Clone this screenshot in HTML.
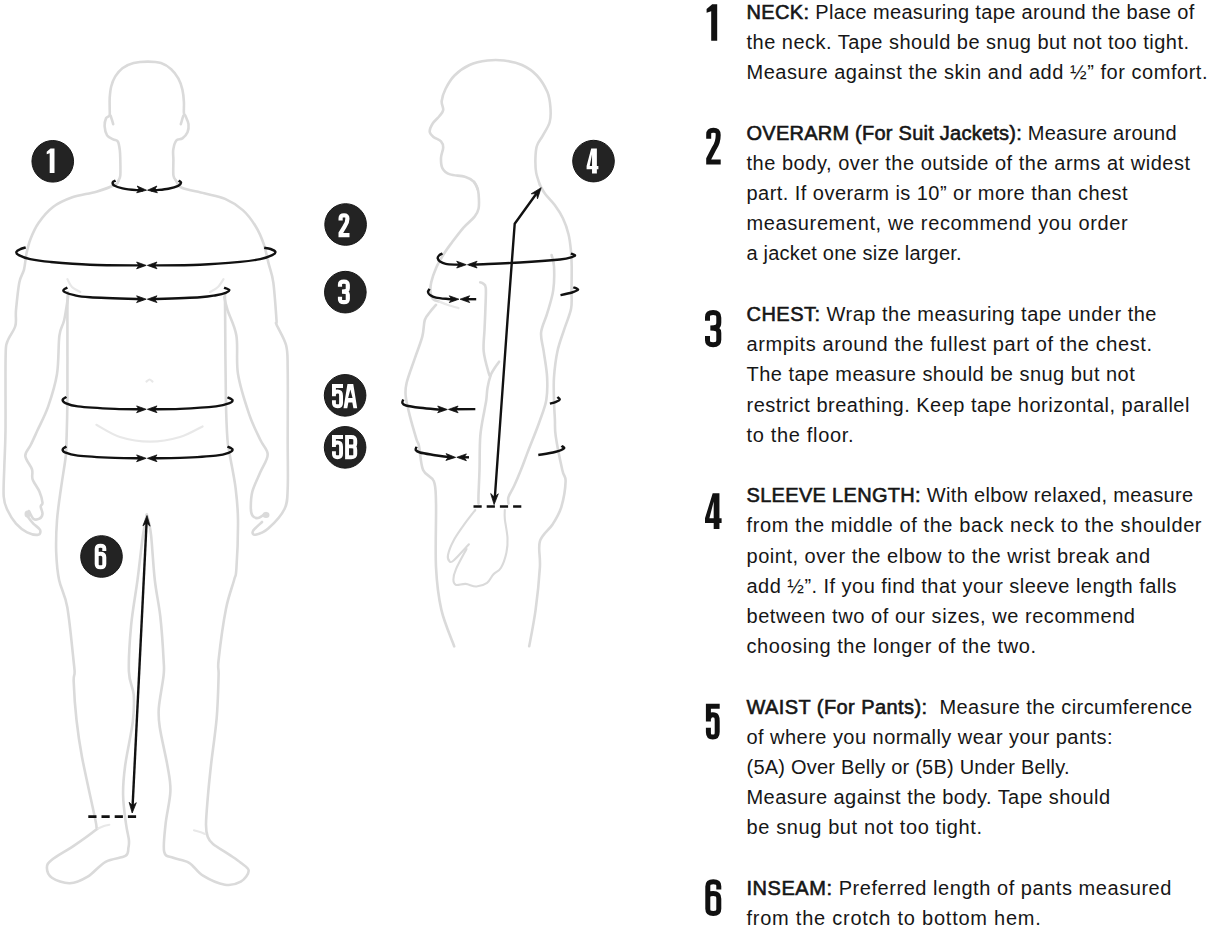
<!DOCTYPE html>
<html><head><meta charset="utf-8"><style>
html,body{margin:0;padding:0;background:#fff;width:1207px;height:934px;overflow:hidden;position:relative}
.t{position:absolute;left:746.5px;font-family:"Liberation Sans",sans-serif;font-size:20.0px;line-height:20.0px;white-space:nowrap;color:#161616}
.t b{font-weight:normal;-webkit-text-stroke:0.6px #161616}
</style></head><body>
<svg width="1207" height="934" viewBox="0 0 1207 934" style="position:absolute;left:0;top:0">
<g fill="none" stroke="#dadada" stroke-width="2.6" stroke-linecap="round" stroke-linejoin="round">
<path d="M118.6,180.5 C118.9,179.7 120.0,178.8 120.3,175.4 C120.6,172.0 120.4,164.2 120.3,160.0 C120.2,155.8 120.2,153.1 119.8,150.0 C119.4,146.9 118.9,143.3 117.8,141.5 C116.7,139.7 115.0,140.4 113.2,139.4 C111.4,138.4 108.5,137.6 107.1,135.4 C105.7,133.2 104.8,129.1 104.6,126.2 C104.4,123.3 105.3,119.9 106.1,118.1 C106.9,116.3 108.9,117.0 109.5,115.5 C110.1,114.0 109.7,111.9 109.7,108.9 C109.7,105.9 109.5,101.4 109.7,97.7 C110.0,94.0 110.3,90.0 111.2,86.5 C112.1,83.0 113.4,79.5 115.3,76.4 C117.2,73.4 119.4,70.4 122.4,68.2 C125.5,66.0 129.4,64.2 133.6,63.1 C137.8,62.0 143.2,61.6 147.8,61.6 C152.4,61.6 157.1,61.8 161.0,63.1 C164.9,64.4 168.3,66.7 171.2,69.2 C174.1,71.8 176.4,75.0 178.3,78.4 C180.2,81.8 181.5,85.7 182.4,89.6 C183.3,93.5 183.7,97.9 183.9,101.8 C184.2,105.7 183.6,110.6 183.9,113.0 C184.2,115.4 184.7,114.1 185.5,116.0 C186.3,117.9 188.2,121.5 188.5,124.2 C188.8,126.9 188.5,129.9 187.5,132.3 C186.5,134.7 184.3,137.0 182.4,138.4 C180.5,139.8 177.8,138.6 176.3,140.5 C174.8,142.4 173.7,146.8 173.2,150.0 C172.7,153.2 173.4,155.8 173.4,160.0 C173.4,164.2 173.0,172.0 173.4,175.4 C173.8,178.8 175.6,179.7 176.0,180.5"/>
<path d="M110.5,115.5 C110.8,116.2 111.5,118.5 112.0,120.0 C112.5,121.5 113.0,123.5 113.2,124.2"/>
<path d="M183.5,115.5 C183.2,116.2 182.4,118.5 182.0,120.0 C181.6,121.5 181.0,123.5 180.8,124.2"/>
<path d="M118.6,180.5 C118.1,181.2 119.3,182.6 115.6,184.5 C111.9,186.4 103.6,189.6 96.4,191.7 C89.2,193.8 79.5,194.8 72.3,197.3 C65.1,199.9 58.6,202.7 53.0,207.0 C47.4,211.3 42.2,217.7 38.5,223.0 C34.8,228.3 32.5,233.9 30.5,239.0 C28.5,244.1 27.6,248.4 26.5,253.5 C25.4,258.6 25.2,264.8 24.0,269.6 C22.8,274.4 20.6,275.7 19.3,282.4 C18.0,289.1 16.7,302.7 16.0,310.0 C15.3,317.3 16.8,320.7 15.3,326.0 C13.8,331.3 8.8,336.7 7.2,342.0 C5.6,347.3 5.9,343.3 5.6,358.0 C5.3,372.7 5.7,411.8 5.5,430.0 C5.3,448.2 4.6,455.9 4.3,467.0 C4.0,478.1 3.2,489.3 3.7,496.5 C4.2,503.7 5.3,505.5 7.4,510.0 C9.5,514.5 12.7,519.9 16.0,523.6 C19.3,527.3 23.4,530.4 27.1,532.3 C30.8,534.1 36.1,535.1 38.2,534.7 C40.4,534.3 40.8,531.6 40.0,529.8 C39.2,527.9 35.3,525.7 33.3,523.6 C31.3,521.5 28.9,518.1 28.0,517.0"/>
<path d="M68.3,295.3 C67.6,299.4 65.7,313.3 64.2,320.0 C62.7,326.7 60.6,326.7 59.4,335.7 C58.2,344.7 58.9,362.2 57.0,374.0 C55.1,385.8 51.4,397.1 48.2,406.4 C45.0,415.7 40.5,423.6 37.6,430.0 C34.7,436.4 32.9,440.5 30.8,444.8 C28.8,449.1 25.1,451.8 25.3,455.9 C25.5,460.0 30.8,465.5 32.0,469.4 C33.2,473.3 31.4,475.6 32.6,479.3 C33.8,483.0 37.8,487.7 39.4,491.6 C41.0,495.5 42.3,500.2 42.5,502.7 C42.7,505.2 40.7,504.5 40.7,506.4 C40.7,508.2 42.7,511.7 42.5,513.8 C42.3,515.8 40.9,517.9 39.4,518.7 C37.9,519.5 35.0,520.0 33.3,518.7 C31.6,517.4 29.7,512.3 29.0,511.0"/>
<path d="M68.0,292.0 C67.9,295.0 67.5,292.0 67.4,310.0 C67.3,328.0 67.6,378.3 67.4,400.0 C67.2,421.7 66.8,430.7 66.5,440.0 C66.2,449.3 66.7,448.0 65.8,456.0 C64.9,464.0 62.5,477.5 61.0,488.2 C59.5,498.9 57.8,509.6 57.0,520.3 C56.2,531.0 55.9,542.4 56.2,552.4 C56.6,562.4 57.2,570.9 59.1,580.0 C61.0,589.1 64.9,593.6 67.3,607.3 C69.7,621.0 72.5,651.0 73.7,662.0 C74.9,673.0 74.6,669.7 74.6,673.0 C74.6,676.3 73.4,674.2 73.7,682.0 C74.0,689.8 75.1,707.6 76.5,720.0 C77.9,732.4 78.9,740.4 81.9,756.5 C84.9,772.6 92.3,804.8 94.7,816.6 C97.1,828.4 96.3,825.3 96.5,827.5 C96.7,829.7 99.4,826.9 95.6,830.0 C91.8,833.1 81.0,840.9 73.7,845.9 C66.4,850.9 56.4,856.1 51.9,859.8 C47.4,863.4 46.9,864.8 46.9,867.8 C46.9,870.8 48.1,875.1 51.9,877.7 C55.7,880.3 63.8,883.5 69.8,883.3 C75.8,883.1 81.7,880.3 87.7,876.7 C93.7,873.1 99.3,865.3 105.6,861.8 C111.9,858.3 121.6,858.2 125.4,855.9 C129.2,853.6 127.8,850.5 128.4,847.9 C129.0,845.2 129.3,844.0 128.9,840.0 C128.5,836.0 127.0,831.4 126.0,823.9 C125.0,816.4 123.2,804.6 123.1,795.0 C122.9,785.4 123.5,778.2 125.1,766.0 C126.7,753.8 131.4,733.6 132.8,721.7 C134.2,709.8 134.3,703.1 133.7,694.7 C133.0,686.4 129.3,683.1 128.9,671.6 C128.5,660.1 129.7,640.9 131.1,625.6 C132.5,610.3 135.5,595.1 137.5,580.0 C139.5,564.9 141.4,545.9 143.0,535.0 C144.6,524.1 146.2,517.9 146.8,514.5"/>
<path d="M146.8,514.5 C147.1,515.8 148.1,518.4 148.8,522.0 C149.5,525.6 150.2,526.7 151.2,536.4 C152.2,546.1 153.3,566.6 154.8,580.0 C156.3,593.4 158.8,603.2 160.3,616.5 C161.8,629.8 163.1,650.2 163.6,660.0 C164.1,669.8 164.4,667.4 163.6,675.4 C162.8,683.4 159.4,699.5 158.8,708.2 C158.2,716.9 158.4,717.9 159.8,727.5 C161.2,737.1 165.7,755.4 167.5,766.0 C169.3,776.6 170.7,781.5 170.4,791.1 C170.1,800.8 166.6,813.8 165.6,823.9 C164.6,834.0 162.9,846.2 164.2,851.9 C165.5,857.5 169.0,856.0 173.2,857.8 C177.3,859.6 184.1,859.8 189.1,862.8 C194.1,865.8 197.0,872.1 203.0,875.7 C209.0,879.4 218.6,883.7 224.9,884.7 C231.2,885.7 236.8,884.0 240.8,881.7 C244.8,879.4 248.7,873.9 248.7,870.8 C248.7,867.6 244.0,865.4 240.8,862.8 C237.6,860.1 234.2,858.0 229.6,854.9 C225.0,851.8 216.7,846.9 213.0,843.9 C209.3,840.9 208.9,840.0 207.7,836.7 C206.5,833.4 205.9,830.9 206.0,823.9 C206.1,816.9 207.2,804.6 208.0,795.0 C208.8,785.4 209.5,778.9 210.9,766.0 C212.3,753.1 215.4,732.9 216.7,717.8 C218.0,702.7 218.3,685.0 218.6,675.4 C218.9,665.8 217.4,671.0 218.6,660.0 C219.8,649.0 223.3,622.5 225.9,609.2 C228.5,595.9 232.3,586.8 234.1,580.0 C235.8,573.2 235.8,578.5 236.4,568.5 C237.1,558.5 238.1,533.7 238.0,520.3 C237.9,506.9 236.9,498.9 235.6,488.2 C234.3,477.5 231.3,464.0 230.0,456.0 C228.7,448.0 228.2,449.3 227.5,440.0 C226.8,430.7 226.3,421.7 225.9,400.0 C225.5,378.3 225.2,327.8 225.1,310.0 C224.9,292.2 225.0,295.8 225.0,293.0"/>
<path d="M176.0,180.5 C177.0,181.7 177.1,185.6 181.8,187.7 C186.5,189.8 197.0,191.4 204.2,193.3 C211.4,195.2 218.7,196.1 225.1,198.9 C231.5,201.7 237.7,205.6 242.8,210.1 C247.9,214.6 252.1,220.6 255.6,226.2 C259.1,231.8 261.6,237.8 263.7,243.9 C265.8,250.1 266.9,256.7 268.5,263.1 C270.1,269.5 272.0,272.9 273.3,282.4 C274.6,291.9 276.0,313.0 276.5,320.0 C277.0,327.0 274.9,320.3 276.5,324.5 C278.1,328.7 284.2,337.7 286.1,345.3 C288.0,352.9 287.4,354.2 287.7,370.0 C288.0,385.8 287.7,420.3 287.7,440.0 C287.7,459.7 288.2,476.7 287.7,488.2 C287.2,499.7 287.7,502.3 284.5,509.0 C281.3,515.7 273.3,524.0 268.5,528.3 C263.7,532.6 258.2,534.2 255.6,534.7 C253.0,535.2 251.9,533.1 253.0,531.0 C254.1,528.9 260.5,523.5 262.0,522.0"/>
<path d="M224.3,296.9 C224.8,299.1 225.5,303.5 227.5,310.0 C229.5,316.5 234.7,325.0 236.4,335.7 C238.2,346.4 235.9,360.9 238.0,374.0 C240.1,387.1 245.5,403.4 249.2,414.4 C252.9,425.4 257.3,433.3 260.4,440.0 C263.5,446.7 267.7,449.1 267.7,454.5 C267.7,459.9 262.9,466.0 260.4,472.1 C257.8,478.2 254.0,485.5 252.4,491.4 C250.8,497.3 250.8,503.4 250.8,507.4 C250.8,511.4 251.2,513.7 252.4,515.5 C253.6,517.3 255.7,518.4 258.0,518.0 C260.3,517.6 264.7,513.8 266.0,513.0"/>
<path d="M477.7,189.4 C477.1,188.2 476.1,184.0 474.0,181.9 C471.9,179.8 469.0,177.9 465.0,176.7 C461.0,175.4 453.8,175.8 450.0,174.4 C446.2,173.0 444.0,171.2 442.5,168.4 C441.0,165.7 440.9,161.4 441.0,157.9 C441.1,154.4 443.2,150.2 443.2,147.4 C443.2,144.7 442.6,143.2 441.0,141.4 C439.4,139.7 435.4,138.5 433.5,136.9 C431.6,135.3 429.8,133.9 429.7,131.7 C429.6,129.5 431.1,126.1 432.7,123.5 C434.3,120.9 437.8,118.2 439.5,116.0 C441.2,113.8 442.8,112.5 443.2,110.0 C443.6,107.5 441.3,104.5 441.7,101.0 C442.1,97.5 443.4,93.2 445.5,89.0 C447.6,84.8 450.5,79.5 454.5,75.5 C458.5,71.5 464.0,67.5 469.5,65.0 C475.0,62.5 481.8,61.2 487.5,60.5 C493.2,59.8 498.2,59.8 504.0,60.5 C509.8,61.2 516.5,62.5 522.0,65.0 C527.5,67.5 532.7,71.0 536.9,75.5 C541.1,80.0 545.1,86.8 547.4,92.0 C549.6,97.2 550.0,102.0 550.4,107.0 C550.8,112.0 551.0,117.3 549.7,122.0 C548.5,126.7 545.0,131.4 542.9,135.4 C540.8,139.4 538.1,141.9 536.9,145.9 C535.6,149.9 535.5,154.9 535.4,159.4 C535.3,163.9 535.5,168.7 536.2,172.9 C537.0,177.2 539.3,182.9 539.9,184.9"/>
<path d="M474.0,181.9 C474.5,182.8 476.2,185.0 477.0,187.0 C477.8,189.0 478.3,190.5 478.6,194.1 C478.9,197.7 479.3,204.8 478.6,208.5 C477.9,212.2 477.2,213.4 474.6,216.6 C472.1,219.8 467.1,223.5 463.3,227.8 C459.6,232.1 455.3,237.9 452.1,242.2 C448.9,246.5 446.8,249.2 444.1,253.5 C441.4,257.8 438.2,263.1 436.1,267.9 C434.0,272.7 432.1,278.4 431.2,282.4 C430.3,286.4 430.2,289.2 430.5,292.0 C430.8,294.8 431.5,297.4 433.0,299.0 C434.5,300.6 438.2,301.2 439.3,301.6"/>
<path d="M436.0,304.9 C435.0,306.1 431.9,309.5 430.0,312.0 C428.1,314.5 426.1,315.9 424.8,320.0 C423.5,324.1 424.0,330.2 422.3,336.6 C420.6,343.0 417.5,350.4 414.9,358.1 C412.3,365.8 408.1,376.6 406.6,383.0 C405.1,389.4 405.1,390.7 405.7,396.2 C406.2,401.7 408.1,408.9 409.9,416.1 C411.7,423.3 415.0,434.3 416.5,439.3 C418.0,444.3 417.9,440.9 419.0,446.0 C420.1,451.1 420.6,464.1 423.1,470.0 C425.6,475.9 431.8,475.9 433.9,481.4 C436.0,486.9 435.6,488.5 436.0,502.8 C436.4,517.1 435.1,549.2 436.0,567.1 C436.9,585.0 438.4,596.7 441.4,609.9 C444.4,623.1 452.1,640.2 454.2,646.3"/>
<path d="M539.9,184.9 C540.8,186.4 542.7,190.7 545.2,194.1 C547.7,197.5 552.0,201.3 554.9,205.3 C557.8,209.3 560.6,213.4 562.9,218.2 C565.2,223.0 567.2,228.8 568.5,234.2 C569.8,239.5 570.4,245.0 570.9,250.3 C571.4,255.7 571.6,259.7 571.7,266.3 C571.8,272.9 571.6,282.9 571.5,290.0 C571.4,297.1 572.3,302.1 571.1,308.6 C569.9,315.1 566.6,322.0 564.3,329.1 C562.0,336.2 559.1,343.4 557.4,351.4 C555.7,359.4 554.6,369.0 554.0,377.1 C553.4,385.2 553.9,392.9 554.0,400.0 C554.1,407.1 554.6,413.4 554.9,419.4 C555.2,425.4 554.5,427.6 555.7,436.0 C556.9,444.4 560.6,462.4 562.3,470.0 C563.9,477.6 565.8,475.2 565.6,481.4 C565.4,487.6 563.4,500.0 561.3,507.1 C559.1,514.2 556.3,518.5 552.7,524.2 C549.1,529.9 542.0,534.2 539.9,541.4 C537.8,548.5 540.6,555.7 539.9,567.1 C539.2,578.5 537.4,596.7 535.6,609.9 C533.8,623.1 530.3,640.2 529.2,646.3"/>
<path d="M480.2,282.4 C480.7,282.6 482.1,282.6 483.0,283.5 C483.9,284.4 485.4,283.8 485.8,288.0 C486.2,292.2 485.6,301.6 485.4,308.6 C485.2,315.6 484.8,322.9 484.5,330.0 C484.2,337.1 483.0,344.1 483.7,351.4 C484.4,358.7 487.8,369.7 488.9,373.7 C490.0,377.7 490.3,375.1 490.6,375.4"/>
<path d="M499.1,361.7 C498.2,362.9 495.4,366.7 494.0,369.0 C492.6,371.3 491.7,372.2 490.6,375.4 C489.5,378.6 488.2,383.9 487.5,388.0 C486.8,392.1 486.8,396.3 486.3,400.0 C485.8,403.7 485.5,404.0 484.5,410.0 C483.5,416.0 481.1,426.0 480.3,436.0 C479.5,446.0 479.8,460.2 479.5,470.0 C479.2,479.8 478.7,489.4 478.5,495.0 C478.3,500.6 478.5,502.2 478.5,503.6"/>
<path d="M551.6,255.1 C552.0,257.0 553.7,260.4 554.0,266.3 C554.3,272.2 554.4,282.5 553.2,290.4 C552.1,298.3 549.1,306.7 547.1,313.7 C545.1,320.7 541.7,326.3 541.1,332.6 C540.5,338.9 542.7,344.0 543.7,351.4 C544.7,358.8 546.7,369.0 547.1,377.1 C547.5,385.2 547.6,392.4 546.3,400.0 C545.0,407.6 542.2,413.9 539.1,422.7 C536.0,431.5 530.5,444.7 527.5,452.6 C524.5,460.5 523.1,464.5 520.9,470.0 C518.7,475.5 516.3,481.2 514.2,485.7 C512.1,490.2 509.4,494.0 508.5,497.0 C507.6,500.0 508.5,502.5 508.5,503.6"/>
<path d="M67.4,279.2 C68.2,280.5 69.8,284.9 72.0,287.0 C74.2,289.1 78.9,291.2 80.3,292.0" stroke="#e8e8e8" stroke-width="2.2"/>
<path d="M223.5,279.2 C222.6,280.5 220.2,284.9 218.0,287.0 C215.8,289.1 211.3,291.2 210.0,292.0" stroke="#e8e8e8" stroke-width="2.2"/>
<path d="M96.4,424.8 C100.3,426.8 111.1,434.2 120.0,437.0 C128.9,439.8 140.0,441.7 150.0,441.7 C160.0,441.7 171.2,439.6 180.0,437.0 C188.8,434.4 198.8,428.2 202.6,426.4" stroke="#e8e8e8" stroke-width="2.2"/>
<path d="M146.5,381.5 C147.0,381.2 148.6,379.5 149.6,379.5 C150.6,379.5 152.0,381.2 152.5,381.5" stroke="#e8e8e8" stroke-width="2.2"/>
<path d="M98.3,828.5 C99.2,828.1 102.2,826.6 104.0,826.0 C105.8,825.4 108.4,825.0 109.3,824.8" stroke="#e8e8e8" stroke-width="2.2"/>
<path d="M194.0,830.3 C195.0,830.6 198.2,831.4 200.0,832.0 C201.8,832.6 204.2,833.7 205.0,834.0" stroke="#e8e8e8" stroke-width="2.2"/>
<path d="M439.3,301.6 C440.8,302.2 444.8,303.9 448.0,305.0 C451.2,306.1 456.8,307.6 458.5,308.1" stroke="#e8e8e8" stroke-width="2.2"/>
<path d="M475.3,510.0 C473.5,512.3 468.2,518.9 464.6,523.9 C461.0,528.9 456.7,534.8 453.9,540.0 C451.1,545.2 448.7,551.4 448.0,555.0 C447.3,558.6 448.6,560.5 449.6,561.4 C450.6,562.3 450.7,563.1 453.9,560.3 C457.1,557.4 466.4,547.0 468.9,544.3" stroke-width="2.1"/>
<path d="M466.5,549.0 C464.8,552.3 458.3,563.8 456.1,568.9 C453.9,574.0 453.4,576.9 453.4,579.6 C453.4,582.3 454.1,584.2 456.1,584.9 C458.2,585.6 462.3,583.6 465.7,583.9 C469.1,584.2 472.8,586.7 476.4,586.5 C480.0,586.3 484.2,584.8 487.1,582.8 C490.0,580.8 491.2,576.7 493.5,574.2 C495.8,571.7 498.9,571.4 501.0,567.8 C503.1,564.2 505.3,557.8 506.4,552.8 C507.5,547.8 507.8,543.5 507.5,537.8 C507.2,532.1 505.2,523.2 504.8,518.6 C504.4,514.0 504.8,511.4 504.8,510.0" stroke-width="2.1"/>
<ellipse cx="27.5" cy="514" rx="3" ry="3.5" fill="#dadada" stroke="none"/>
<ellipse cx="266" cy="515" rx="3.5" ry="3" fill="#dadada" stroke="none"/>
</g>
<g fill="none" stroke="#111" stroke-width="2.4" stroke-linecap="butt" stroke-linejoin="round">
<path d="M115.6,180.6 C115.1,180.9 112.9,181.4 112.7,182.2 C112.5,183.0 112.6,184.5 114.2,185.5 C115.8,186.5 118.8,187.5 122.6,188.3 C126.3,189.1 133.3,189.8 136.7,190.1 C140.1,190.4 141.9,190.2 143.0,190.2"/>
<path d="M178.6,180.6 C179.0,180.9 181.2,181.8 181.1,182.7 C181.0,183.6 180.3,184.8 178.2,185.8 C176.1,186.8 171.9,188.0 168.4,188.7 C164.9,189.4 160.0,189.8 157.1,190.1 C154.2,190.3 152.0,190.2 151.0,190.2"/>
<path d="M25.7,247.4 C24.8,247.7 21.9,248.3 20.4,249.1 C18.8,249.8 16.7,250.9 16.4,251.9 C16.1,252.9 16.5,253.9 18.8,255.1 C21.1,256.3 24.9,258.0 30.1,259.1 C35.3,260.2 40.2,261.0 50.2,261.9 C60.2,262.8 74.5,264.1 90.0,264.7 C105.5,265.3 134.2,265.3 143.0,265.4"/>
<path d="M264.2,247.8 C265.3,248.0 268.7,248.3 270.6,249.0 C272.5,249.7 275.1,250.9 275.4,251.9 C275.7,252.9 274.7,253.9 272.2,255.1 C269.7,256.3 265.6,258.0 260.2,259.1 C254.8,260.2 250.1,261.0 240.1,261.9 C230.1,262.8 214.8,264.1 200.0,264.7 C185.2,265.3 159.2,265.3 151.0,265.4"/>
<path d="M67.4,287.6 C66.8,287.9 64.3,288.9 63.8,289.6 C63.3,290.3 62.8,291.1 64.6,292.0 C66.3,292.9 70.1,294.3 74.3,295.2 C78.5,296.1 78.5,296.5 90.0,297.2 C101.5,297.9 134.2,298.9 143.0,299.2"/>
<path d="M224.1,287.6 C225.0,288.0 229.0,289.1 229.3,290.0 C229.6,290.9 227.9,291.9 225.7,292.8 C223.5,293.7 220.4,294.5 216.1,295.2 C211.8,295.9 210.8,296.5 200.0,297.2 C189.2,297.9 159.2,298.9 151.0,299.2"/>
<path d="M66.4,396.8 C65.8,397.3 62.9,398.6 62.7,399.6 C62.5,400.6 62.5,401.7 65.0,402.8 C67.5,403.9 69.5,405.4 77.8,406.4 C86.1,407.4 104.1,408.4 115.0,408.9 C125.9,409.4 138.3,409.2 143.0,409.3"/>
<path d="M227.5,397.3 C228.3,397.8 232.2,399.2 232.5,400.2 C232.8,401.2 232.2,402.2 229.5,403.2 C226.8,404.2 224.2,405.4 216.0,406.4 C207.8,407.3 190.8,408.4 180.0,408.9 C169.2,409.4 155.8,409.2 151.0,409.3"/>
<path d="M66.4,446.5 C65.8,446.9 62.9,448.2 62.7,449.2 C62.5,450.2 62.5,451.3 65.0,452.4 C67.5,453.5 69.5,454.7 77.8,455.6 C86.1,456.5 104.1,457.4 115.0,457.9 C125.9,458.3 138.3,458.2 143.0,458.3"/>
<path d="M227.5,446.5 C228.3,447.0 232.2,448.4 232.5,449.4 C232.8,450.4 232.2,451.4 229.5,452.4 C226.8,453.4 224.2,454.7 216.0,455.6 C207.8,456.5 190.8,457.4 180.0,457.9 C169.2,458.3 155.8,458.2 151.0,458.3"/>
<path d="M146.6,522 L132.6,806"/>
<path d="M442.5,253.5 C441.9,253.8 439.8,254.7 439.0,255.5 C438.2,256.3 437.5,257.3 437.7,258.3 C437.9,259.3 438.7,260.6 440.0,261.5 C441.3,262.4 443.2,263.4 445.7,263.9 C448.2,264.4 452.1,264.5 455.0,264.6 C457.9,264.7 461.7,264.7 463.0,264.7"/>
<path d="M570.9,253.5 C571.6,253.8 574.6,254.5 574.9,255.1 C575.2,255.7 575.0,256.2 572.5,256.9 C570.0,257.6 568.8,258.6 560.0,259.5 C551.2,260.4 534.2,261.7 520.0,262.5 C505.8,263.3 483.2,264.1 475.0,264.5 C466.8,264.9 471.7,264.7 471.0,264.7"/>
<path d="M429.6,288.8 C429.3,289.3 427.9,291.0 428.0,292.0 C428.1,293.0 428.7,294.1 430.0,295.0 C431.3,295.9 433.0,296.9 436.0,297.6 C439.0,298.3 444.8,298.7 448.0,299.0 C451.2,299.3 454.2,299.2 455.5,299.2"/>
<path d="M464,299.2 L476.2,299.2"/>
<path d="M560.5,295.2 C562.4,294.8 569.1,293.4 572.0,292.5 C574.9,291.6 577.9,290.5 578.1,289.6 C578.3,288.7 574.1,287.6 573.3,287.2"/>
<path d="M403.3,399.5 C403.1,400.1 401.9,402.0 402.4,403.0 C402.8,404.0 403.1,404.7 406.0,405.5 C408.9,406.3 415.2,407.2 420.0,407.8 C424.8,408.4 431.0,408.9 435.0,409.2 C439.0,409.5 442.5,409.4 444.0,409.5"/>
<path d="M452,409.3 L475.3,409.1"/>
<path d="M549.9,403.7 C550.9,403.4 554.4,402.5 556.0,401.8 C557.6,401.1 559.6,400.3 559.8,399.5 C560.0,398.7 557.8,397.4 557.4,397.0"/>
<path d="M416.5,446.8 C416.4,447.3 415.1,449.1 415.7,450.0 C416.3,450.9 416.8,451.6 420.0,452.5 C423.2,453.4 430.3,454.4 435.0,455.2 C439.7,455.9 445.2,456.6 448.0,457.0 C450.8,457.4 451.3,457.2 452.0,457.3"/>
<path d="M462,457.3 L469,457.3"/>
<path d="M538.3,455.0 C541.1,454.5 550.7,453.1 555.0,452.0 C559.3,450.9 562.9,449.4 564.0,448.4 C565.1,447.4 561.9,446.3 561.5,445.9"/>
<path d="M494.8,498 L507.5,320 L514.7,223.8 L536.5,193.5"/>
<path d="M88.3,816.6 L136.6,816.6" stroke-dasharray="8.2 5" stroke-width="2.6"/>
<path d="M473.5,506.5 L521.7,506.5" stroke-dasharray="8.2 5" stroke-width="2.6"/>
</g>
<g fill="#111" stroke="#111" stroke-width="0.8" stroke-linejoin="miter">
<path d="M146.5,190.2 L136.7,192.8 L139.3,189.6 L137.2,186.0 Z"/>
<path d="M147.6,190.2 L156.9,186.0 L154.8,189.6 L157.4,192.8 Z"/>
<path d="M146.2,265.4 L136.6,268.8 L139.0,265.4 L136.6,262.0 Z"/>
<path d="M147.4,265.4 L157.0,262.0 L154.6,265.4 L157.0,268.8 Z"/>
<path d="M146.2,299.2 L136.6,302.6 L139.0,299.2 L136.6,295.8 Z"/>
<path d="M147.4,299.2 L157.0,295.8 L154.6,299.2 L157.0,302.6 Z"/>
<path d="M146.2,409.3 L136.6,412.7 L139.0,409.3 L136.6,405.9 Z"/>
<path d="M147.4,409.3 L157.0,405.9 L154.6,409.3 L157.0,412.7 Z"/>
<path d="M146.2,458.3 L136.6,461.7 L139.0,458.3 L136.6,454.9 Z"/>
<path d="M147.4,458.3 L157.0,454.9 L154.6,458.3 L157.0,461.7 Z"/>
<path d="M147.0,515.5 L150.1,526.2 L146.6,523.0 L142.9,525.8 Z"/>
<path d="M132.2,813.0 L129.1,802.3 L132.6,805.5 L136.3,802.7 Z"/>
<path d="M466.3,264.7 L456.7,268.0 L459.1,264.6 L456.7,261.2 Z"/>
<path d="M467.5,264.7 L477.1,261.2 L474.7,264.6 L477.1,268.0 Z"/>
<path d="M458.9,299.2 L449.3,302.6 L451.7,299.2 L449.3,295.8 Z"/>
<path d="M460.1,299.2 L469.7,295.8 L467.3,299.2 L469.7,302.6 Z"/>
<path d="M447.3,409.5 L437.7,412.8 L440.1,409.4 L437.7,406.0 Z"/>
<path d="M448.5,409.4 L458.1,406.0 L455.7,409.4 L458.1,412.8 Z"/>
<path d="M455.6,457.4 L445.9,460.4 L448.4,457.1 L446.1,453.6 Z"/>
<path d="M456.8,457.3 L466.4,453.9 L464.0,457.3 L466.4,460.7 Z"/>
<path d="M541.2,187.7 L537.5,198.8 L536.5,193.6 L531.2,193.8 Z"/>
<path d="M494.1,504.6 L490.7,493.5 L494.4,497.1 L498.3,493.8 Z"/>
</g>
<g fill="#232323" stroke="#161616" stroke-width="1">
<circle cx="52.75" cy="161.3" r="20.8"/>
<circle cx="345.6" cy="224.5" r="20.8"/>
<circle cx="345.35" cy="292.15" r="20.8"/>
<circle cx="345.1" cy="395.35" r="20.8"/>
<circle cx="345.1" cy="447.35" r="20.8"/>
<circle cx="593.5" cy="161.1" r="20.8"/>
<circle cx="101.5" cy="556.5" r="20.8"/>
</g>
<path d="M50.50,148.60 L54.50,148.60 L54.50,172.90 L49.70,172.90 L49.70,153.22 L46.70,154.31 L46.70,151.76 Z" fill="#fff" fill-rule="evenodd"/>
<path d="M340.60,220.40 V218.36 C340.60,215.64 341.79,215.30 344.00,215.30 C346.21,215.30 347.40,215.64 347.40,218.70 C347.40,221.84 346.55,224.00 344.68,226.40 L340.60,233.18 V235.10 H349.50" fill="none" stroke="#fff" stroke-width="4.20" stroke-linejoin="miter" stroke-linecap="butt"/>
<path d="M340.00,286.69 V284.58 C340.00,282.10 341.37,281.60 343.90,281.60 C346.43,281.60 347.80,282.10 347.80,285.07 V288.30 C347.80,290.78 346.24,291.53 341.95,291.53 M341.95,291.53 C346.24,291.53 347.80,292.27 347.80,294.75 V298.98 C347.80,301.70 346.43,302.20 343.90,302.20 C341.37,302.20 340.00,301.70 340.00,299.22 V296.86" fill="none" stroke="#fff" stroke-width="4.20" stroke-linejoin="miter" stroke-linecap="butt"/>
<path d="M343.00,386.05 H333.95 V396.15 M333.95,394.22 C334.66,392.29 336.26,391.57 337.50,391.57 C340.69,391.57 341.05,393.02 341.05,395.91 V402.88 C341.05,405.77 339.81,406.25 337.50,406.25 C335.19,406.25 333.95,405.77 333.95,403.12 V400.25" fill="none" stroke="#fff" stroke-width="3.90" stroke-linejoin="miter" stroke-linecap="butt"/>
<path d="M347.45,384.10 L353.25,384.10 L357.20,408.20 L353.42,408.20 L352.32,402.42 L348.38,402.42 L347.28,408.20 L343.50,408.20 Z M350.35,389.40 L352.54,398.08 L348.16,398.08 Z" fill="#fff" fill-rule="evenodd"/>
<path d="M343.00,436.95 H333.95 V447.10 M333.95,445.16 C334.66,443.23 336.26,442.50 337.50,442.50 C340.69,442.50 341.05,443.95 341.05,446.86 V453.86 C341.05,456.77 339.81,457.25 337.50,457.25 C335.19,457.25 333.95,456.77 333.95,454.10 V451.21" fill="none" stroke="#fff" stroke-width="3.90" stroke-linejoin="miter" stroke-linecap="butt"/>
<path d="M347.05,459.20 V436.95 H351.15 C354.43,436.95 355.25,437.92 355.25,440.58 V443.47 C355.25,445.89 354.02,446.37 351.15,446.37 H347.05 M351.15,446.37 C354.84,446.37 355.25,447.10 355.25,450.00 V454.10 C355.25,456.77 354.43,457.25 351.15,457.25 H345.10" fill="none" stroke="#fff" stroke-width="3.90" stroke-linejoin="miter" stroke-linecap="butt"/>
<path d="M591.20,148.40 L596.87,148.40 L596.87,165.97 L598.40,165.97 L598.40,169.23 L596.87,169.23 L596.87,173.50 L592.04,173.50 L592.04,169.23 L586.60,169.23 L586.60,165.97 Z M592.04,154.17 L592.04,165.97 L589.73,165.97 Z" fill="#fff" fill-rule="evenodd"/>
<path d="M104.30,550.91 V548.85 C104.30,546.31 102.97,545.80 100.50,545.80 C98.03,545.80 96.70,546.31 96.70,549.10 V563.90 C96.70,566.69 98.03,567.20 100.50,567.20 C102.97,567.20 104.30,566.69 104.30,563.90 V557.26 C104.30,554.47 102.97,553.71 100.50,553.71 C98.22,553.71 96.70,554.47 96.70,555.99" fill="none" stroke="#fff" stroke-width="4.00" stroke-linejoin="miter" stroke-linecap="butt"/>
<path d="M712.20,4.20 L717.20,4.20 L717.20,40.80 L711.20,40.80 L711.20,11.15 L706.60,12.80 L706.60,8.96 Z" fill="#111" fill-rule="evenodd"/>
<path d="M708.70,138.78 V134.58 C708.70,130.78 710.36,130.30 713.45,130.30 C716.54,130.30 718.20,130.78 718.20,135.05 C718.20,140.98 717.01,144.27 714.40,147.93 L708.70,158.97 V161.90 H720.70" fill="none" stroke="#111" stroke-width="5.00" stroke-linejoin="miter" stroke-linecap="butt"/>
<path d="M707.50,320.79 V316.96 C707.50,313.24 709.48,312.50 713.15,312.50 C716.82,312.50 718.80,313.24 718.80,317.71 V322.54 C718.80,326.93 716.54,328.04 710.33,328.04 M710.33,328.04 C716.54,328.04 718.80,329.16 718.80,332.88 V339.86 C718.80,343.96 716.82,344.70 713.15,344.70 C709.48,344.70 707.50,343.96 707.50,340.24 V336.04" fill="none" stroke="#111" stroke-width="5.00" stroke-linejoin="miter" stroke-linecap="butt"/>
<path d="M712.69,493.20 L719.44,493.20 L719.44,518.33 L721.60,518.33 L721.60,523.00 L719.44,523.00 L719.44,529.10 L713.69,529.10 L713.69,523.00 L705.00,523.00 L705.00,518.33 Z M713.69,501.46 L713.69,518.33 L709.40,518.33 Z" fill="#111" fill-rule="evenodd"/>
<path d="M719.70,706.30 H708.40 V721.60 M708.40,718.75 C709.28,715.90 711.26,714.84 712.80,714.84 C716.76,714.84 717.20,716.97 717.20,721.24 V731.92 C717.20,736.19 715.66,736.90 712.80,736.90 C709.94,736.90 708.40,736.19 708.40,732.27 V727.65" fill="none" stroke="#111" stroke-width="5.00" stroke-linejoin="miter" stroke-linecap="butt"/>
<path d="M718.80,889.55 V886.19 C718.80,882.53 716.88,881.80 713.30,881.80 C709.72,881.80 707.80,882.53 707.80,886.56 V908.64 C707.80,912.67 709.72,913.40 713.30,913.40 C716.88,913.40 718.80,912.67 718.80,908.64 V898.70 C718.80,894.67 716.88,893.57 713.30,893.57 C710.00,893.57 707.80,894.67 707.80,896.87" fill="none" stroke="#111" stroke-width="5.00" stroke-linejoin="miter" stroke-linecap="butt"/>
</svg>
<div class="t" style="top:1.77px;letter-spacing:0.346px;"><span id="s0"><b>NECK:</b> Place measuring tape around the base of</span></div>
<div class="t" style="top:31.98px;letter-spacing:0.480px;"><span id="s1">the neck. Tape should be snug but not too tight.</span></div>
<div class="t" style="top:62.19px;letter-spacing:0.537px;"><span id="s2">Measure against the skin and add ½” for comfort.</span></div>
<div class="t" style="top:122.61px;letter-spacing:0.243px;"><span id="s4"><b>OVERARM (For Suit Jackets):</b> Measure around</span></div>
<div class="t" style="top:152.82px;letter-spacing:0.527px;"><span id="s5">the body, over the outside of the arms at widest</span></div>
<div class="t" style="top:183.03px;letter-spacing:0.457px;"><span id="s6">part. If overarm is 10” or more than chest</span></div>
<div class="t" style="top:213.24px;letter-spacing:0.616px;"><span id="s7">measurement, we recommend you order</span></div>
<div class="t" style="top:243.45px;letter-spacing:0.207px;"><span id="s8">a jacket one size larger.</span></div>
<div class="t" style="top:303.87px;letter-spacing:0.486px;"><span id="s10"><b>CHEST:</b> Wrap the measuring tape under the</span></div>
<div class="t" style="top:334.08px;letter-spacing:0.600px;"><span id="s11">armpits around the fullest part of the chest.</span></div>
<div class="t" style="top:364.29px;letter-spacing:0.472px;"><span id="s12">The tape measure should be snug but not</span></div>
<div class="t" style="top:394.50px;letter-spacing:0.485px;"><span id="s13">restrict breathing. Keep tape horizontal, parallel</span></div>
<div class="t" style="top:424.71px;letter-spacing:0.678px;"><span id="s14">to the floor.</span></div>
<div class="t" style="top:485.13px;letter-spacing:0.317px;"><span id="s16"><b>SLEEVE LENGTH:</b> With elbow relaxed, measure</span></div>
<div class="t" style="top:515.34px;letter-spacing:0.598px;"><span id="s17">from the middle of the back neck to the shoulder</span></div>
<div class="t" style="top:545.55px;letter-spacing:0.516px;"><span id="s18">point, over the elbow to the wrist break and</span></div>
<div class="t" style="top:575.76px;letter-spacing:0.460px;"><span id="s19">add ½”. If you find that your sleeve length falls</span></div>
<div class="t" style="top:605.97px;letter-spacing:0.555px;"><span id="s20">between two of our sizes, we recommend</span></div>
<div class="t" style="top:636.18px;letter-spacing:0.570px;"><span id="s21">choosing the longer of the two.</span></div>
<div class="t" style="top:696.60px;letter-spacing:0.425px;"><span id="s23"><b>WAIST (For Pants):</b>  Measure the circumference</span></div>
<div class="t" style="top:726.81px;letter-spacing:0.460px;"><span id="s24">of where you normally wear your pants:</span></div>
<div class="t" style="top:757.02px;letter-spacing:0.221px;"><span id="s25">(5A) Over Belly or (5B) Under Belly.</span></div>
<div class="t" style="top:787.23px;letter-spacing:0.451px;"><span id="s26">Measure against the body. Tape should</span></div>
<div class="t" style="top:817.44px;letter-spacing:0.613px;"><span id="s27">be snug but not too tight.</span></div>
<div class="t" style="top:877.86px;letter-spacing:0.548px;"><span id="s29"><b>INSEAM:</b> Preferred length of pants measured</span></div>
<div class="t" style="top:908.07px;letter-spacing:0.757px;"><span id="s30">from the crotch to bottom hem.</span></div>
</body></html>
